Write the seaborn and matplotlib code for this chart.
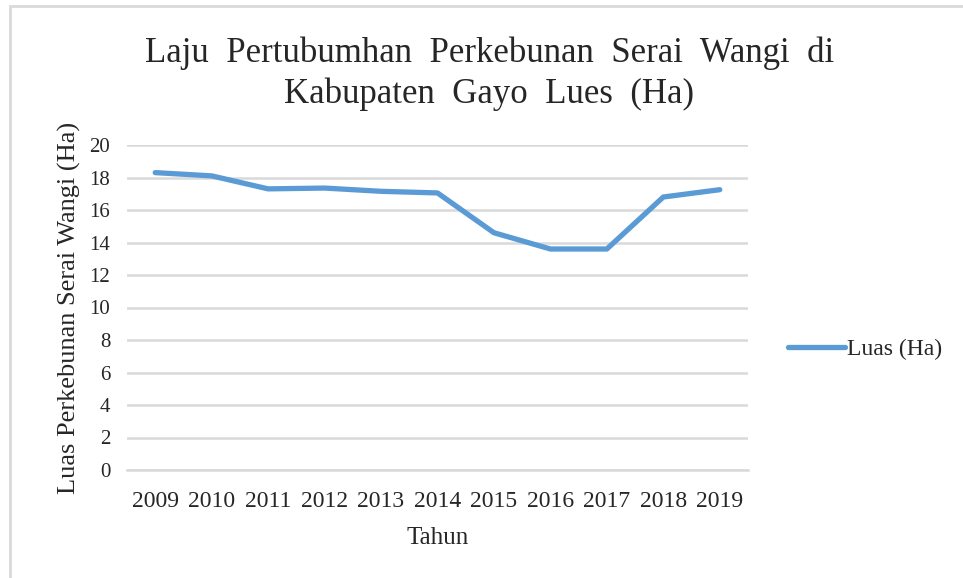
import matplotlib
matplotlib.use("Agg")
import matplotlib.pyplot as plt
import seaborn as sns
import pandas as pd
import numpy as np
from matplotlib.patches import Rectangle

# Data
years = ["2009", "2010", "2011", "2012", "2013", "2014", "2015", "2016", "2017", "2018", "2019"]
luas = [18.3, 18.1, 17.3, 17.35, 17.15, 17.05, 14.6, 13.6, 13.6, 16.8, 17.25]
y_ticks = [0, 2, 4, 6, 8, 10, 12, 14, 16, 18, 20]

df = pd.DataFrame({"pos": np.arange(len(years)), "Luas (Ha)": luas})

sns.set_style("white")
plt.rcParams["font.family"] = ["Liberation Serif", "DejaVu Serif"]

fig = plt.figure(figsize=(9.63, 5.78), dpi=100)
ax = fig.add_axes([127 / 963, 108 / 578, 621 / 963, 325 / 578])

sns.lineplot(data=df, x="pos", y="Luas (Ha)", ax=ax, color="#5B9BD5",
             linewidth=3.8, solid_capstyle="round", label="Luas (Ha)")

ax.set_xlim(-0.5, len(years) - 0.5)
ax.set_ylim(0, 20)
ax.set_yticks(y_ticks)
ax.set_xticks(df["pos"])
ax.set_xticklabels(years)
ax.set_xticks(np.arange(-0.5, len(years)), minor=True)
ax.tick_params(axis="x", which="major", length=0, labelsize=17, pad=15)
ax.tick_params(axis="x", which="minor", length=6, width=1.5, color="#D9D9D9", direction="out")
ax.tick_params(axis="y", length=0, labelsize=15, pad=12)

ax.yaxis.grid(True, color="#D9D9D9", linewidth=1.8)
ax.set_axisbelow(True)
for side in ["top", "right", "left"]:
    ax.spines[side].set_visible(False)
ax.spines["bottom"].set_color("#D9D9D9")
ax.spines["bottom"].set_linewidth(1.8)

ax.set_xlabel("Tahun", fontsize=18, labelpad=11)
ax.set_ylabel("Luas Perkebunan Serai Wangi (Ha)", fontsize=19, labelpad=6)

fig.text(0.508, 0.872, "Laju  Pertubumhan  Perkebunan  Serai  Wangi  di\nKabupaten  Gayo  Lues  (Ha)",
         ha="center", va="center", fontsize=25, linespacing=1.3)

leg = ax.legend(loc="center left", bbox_to_anchor=(1.03, 0.37), frameon=False,
                fontsize=17, handlelength=2.4, handletextpad=0.1)

# light grey frame around the chart
fig.patches.append(Rectangle((10 / 963, -0.05), 1.0, 1.05 - 6 / 578, transform=fig.transFigure,
                             fill=False, edgecolor="#D9D9D9", linewidth=2, clip_on=False))

fig.savefig("out.png", dpi=100)
